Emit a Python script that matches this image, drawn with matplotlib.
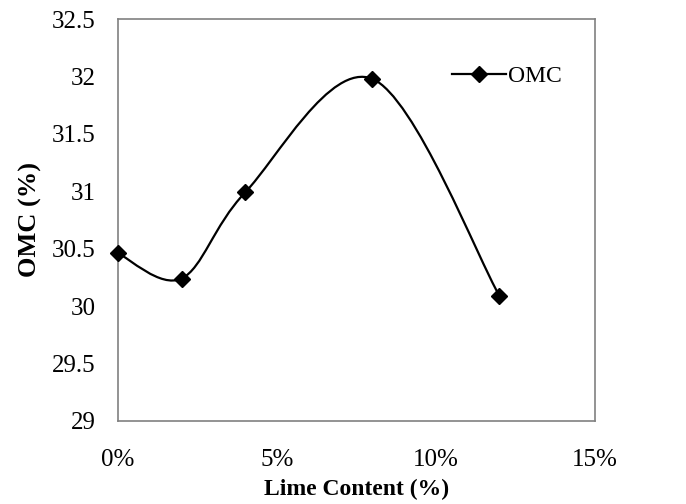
import matplotlib
matplotlib.use("Agg")
import matplotlib.pyplot as plt
from matplotlib.path import Path
from matplotlib.patches import PathPatch
from matplotlib.lines import Line2D
from matplotlib.ticker import FuncFormatter

lime = [0, 2, 4, 8, 12]
omc = [30.46, 30.24, 30.99, 31.98, 30.09]
y_ticks = [29, 29.5, 30, 30.5, 31, 31.5, 32, 32.5]
x_ticks = [0, 5, 10, 15]


def smooth_path(xs, ys):
    # excel-like smoothed line: cubic bezier through each point
    verts = [(xs[0], ys[0])]
    codes = [Path.MOVETO]
    n = len(xs)
    for i in range(n - 1):
        x0, y0 = (xs[i - 1], ys[i - 1]) if i > 0 else (xs[i], ys[i])
        x1, y1 = xs[i], ys[i]
        x2, y2 = xs[i + 1], ys[i + 1]
        x3, y3 = (xs[i + 2], ys[i + 2]) if i + 2 < n else (x2, y2)
        c1 = (x1 + (x2 - x0) / 6, y1 + (y2 - y0) / 6)
        c2 = (x2 - (x3 - x1) / 6, y2 - (y3 - y1) / 6)
        verts += [c1, c2, (x2, y2)]
        codes += [Path.CURVE4] * 3
    return Path(verts, codes)


plt.rcParams['font.family'] = ['Liberation Serif', 'DejaVu Serif']

fig = plt.figure(figsize=(6.86, 5.04), dpi=100)
ax = fig.add_axes([0.172, 0.165, 0.695, 0.797])

ax.add_patch(PathPatch(smooth_path(lime, omc), facecolor='none',
                       edgecolor='black', lw=1.6, zorder=2))
ax.plot(lime, omc, linestyle='none', marker='D', ms=8, color='black',
        zorder=3, clip_on=False)

ax.set_xlim(0, 15)
ax.set_ylim(29, 32.5)
ax.set_xticks(x_ticks)
ax.set_yticks(y_ticks)
ax.xaxis.set_major_formatter(FuncFormatter(lambda v, p: '%d%%' % v))
ax.yaxis.set_major_formatter(FuncFormatter(lambda v, p: '%g' % v))
ax.tick_params(length=0, labelsize=18)
ax.tick_params(axis='x', pad=20)
ax.tick_params(axis='y', pad=16)

for s in ax.spines.values():
    s.set_color('#808080')
    s.set_linewidth(1.2)

ax.set_xlabel('Lime Content (%)', fontsize=17, fontweight='bold', labelpad=6)
ax.set_ylabel('OMC (%)', fontsize=19, fontweight='bold', labelpad=7)

handle = Line2D([], [], color='black', lw=1.6, marker='D', ms=8)
ax.legend([handle], ['OMC'], loc='center left', bbox_to_anchor=(0.70, 0.857),
          frameon=False, fontsize=17, handlelength=2.3, handletextpad=0.1,
          borderaxespad=0, borderpad=0)

fig.savefig('out.png', dpi=100)
